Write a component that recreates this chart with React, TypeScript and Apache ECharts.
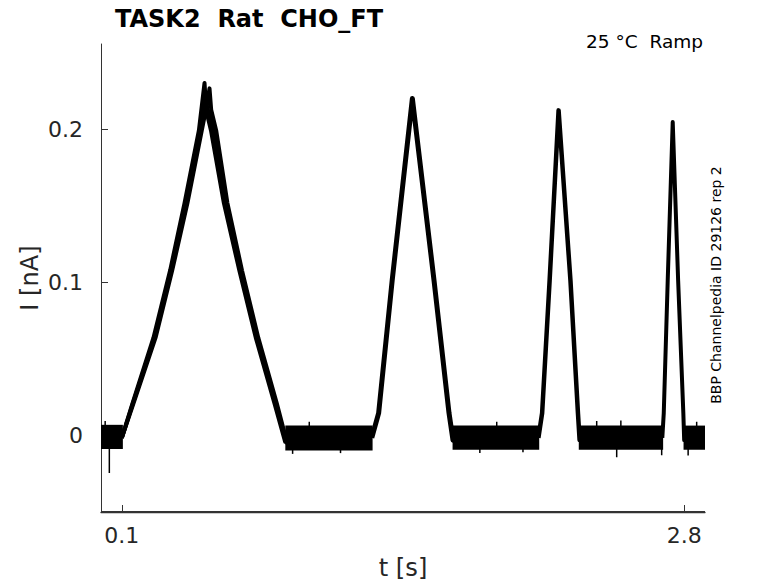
import { useEffect, useRef } from "react";
import * as echarts from "echarts";

// ---- data ----
const xTickValues = [0.1, 2.8];
const yTickValues = [0, 0.1, 0.2];
const xRange = [0, 2.9];
const yRange = [-0.05, 0.256];

// ramp 1, three overlapping sweeps: [t (s), I (nA)]
const ramp1SweepA = [
  [0.1, -0.0015], [0.149, 0.02], [0.252, 0.064], [0.332, 0.108], [0.401, 0.152],
  [0.47, 0.1995], [0.497, 0.2305], [0.506, 0.212], [0.528, 0.1995], [0.59, 0.152],
  [0.664, 0.108], [0.743, 0.064], [0.833, 0.021], [0.884, -0.004], [0.9, -0.0015],
];
const ramp1SweepB = [
  [0.1, -0.0015], [0.156, 0.021], [0.262, 0.064], [0.342, 0.108], [0.415, 0.152],
  [0.484, 0.1995], [0.508, 0.216], [0.521, 0.227], [0.529, 0.213], [0.553, 0.1995],
  [0.607, 0.152], [0.677, 0.108], [0.755, 0.064], [0.844, 0.021], [0.894, -0.005],
  [0.905, -0.0015],
];
const ramp1SweepC = [
  [0.1, -0.0015], [0.152, 0.0205], [0.257, 0.064], [0.337, 0.108], [0.408, 0.152],
  [0.477, 0.1995], [0.502, 0.219], [0.538, 0.1995], [0.598, 0.152], [0.67, 0.108],
  [0.749, 0.064], [0.838, 0.021], [0.89, -0.004], [0.902, -0.0015],
];
const ramp2 = [
  [1.3, -0.0015], [1.333, 0.0146], [1.398, 0.1014], [1.495, 0.2203],
  [1.599, 0.1014], [1.671, 0.0146], [1.69, -0.003], [1.7, -0.0015],
];
const ramp3 = [
  [2.1, -0.0015], [2.118, 0.0146], [2.154, 0.1014], [2.197, 0.2126],
  [2.254, 0.1014], [2.29, 0.0146], [2.298, -0.003], [2.305, -0.0015],
];
const ramp4 = [
  [2.695, -0.0015], [2.702, 0.0146], [2.721, 0.1014], [2.745, 0.205],
  [2.771, 0.1014], [2.796, 0.0146], [2.8, -0.003], [2.805, -0.0015],
];

// holding-level noise band between ramps
const baselineStart = [0, 0.885, 1.688, 2.294, 2.797];
const baselineEnd = [0.105, 1.304, 2.104, 2.699, 2.9];
const baselineTop = [0.007, 0.0065, 0.0065, 0.0065, 0.0065];
const baselineBottom = [-0.0088, -0.0098, -0.0093, -0.0093, -0.0093];

// isolated noise spikes
const spikeT = [0.02, 0.04, 0.92, 1.0, 1.15, 1.819, 1.9, 2.026, 2.38, 2.476, 2.496, 2.692, 2.819, 2.86];
const spikeI = [0.0095, -0.0245, -0.012, 0.009, -0.0115, -0.0114, 0.009, -0.011, 0.0095, -0.0142, 0.0098, -0.0129, -0.013, 0.009];
const spikeBase = -0.0015;

const FONT = '"DejaVu Sans", "Noto Sans", sans-serif';
const AXIS_COLOR = "#333";

export default function App() {
  const ref = useRef<HTMLDivElement>(null);

  useEffect(() => {
    if (!ref.current) return;
    const chart = echarts.init(ref.current, undefined, { renderer: "svg" });

    const lineSeries = (data: number[][], width: number) => ({
      type: "line",
      data,
      showSymbol: false,
      symbol: "none",
      silent: true,
      lineStyle: { color: "#000", width, join: "round" },
      z: 3,
    });

    const option: any = {
      animation: false,
      backgroundColor: "#fff",
      grid: { left: 101, top: 44, width: 604, height: 468, containLabel: false },
      xAxis: {
        type: "value",
        min: xRange[0],
        max: xRange[1],
        axisLine: { show: true, onZero: false, lineStyle: { color: AXIS_COLOR, width: 1.3 } },
        axisTick: { show: true, inside: true, length: 7, customValues: xTickValues, lineStyle: { color: AXIS_COLOR } },
        axisLabel: { customValues: xTickValues, fontSize: 22, color: "#262626", fontFamily: FONT, margin: 12 },
        splitLine: { show: false },
      },
      yAxis: {
        type: "value",
        min: yRange[0],
        max: yRange[1],
        axisLine: { show: true, onZero: false, lineStyle: { color: AXIS_COLOR, width: 1 } },
        axisTick: { show: true, inside: true, length: 7, customValues: yTickValues, lineStyle: { color: AXIS_COLOR } },
        axisLabel: { customValues: yTickValues, fontSize: 22, color: "#262626", fontFamily: FONT, margin: 18 },
        splitLine: { show: false },
      },
      series: [
        {
          type: "custom",
          silent: true,
          z: 2,
          encode: { x: [0, 1], y: [2, 3] },
          data: baselineStart.map((s, i) => [s, baselineEnd[i], baselineBottom[i], baselineTop[i]]),
          renderItem: (_p: any, api: any) => {
            const a = api.coord([api.value(0), api.value(3)]);
            const b = api.coord([api.value(1), api.value(2)]);
            return {
              type: "rect",
              shape: { x: a[0], y: a[1], width: b[0] - a[0], height: b[1] - a[1] },
              style: { fill: "#000" },
            };
          },
        },
        {
          type: "custom",
          silent: true,
          z: 2,
          encode: { x: 0, y: [1, 2] },
          data: spikeT.map((t, i) => [t, spikeBase, spikeI[i]]),
          renderItem: (_p: any, api: any) => {
            const a = api.coord([api.value(0), api.value(1)]);
            const b = api.coord([api.value(0), api.value(2)]);
            return {
              type: "line",
              shape: { x1: a[0], y1: a[1], x2: b[0], y2: b[1] },
              style: { stroke: "#000", lineWidth: 1.5 },
            };
          },
        },
        {
          // bottom axis baseline drawn through the scales (x range at y minimum)
          type: "custom",
          silent: true,
          z: 5,
          clip: false,
          encode: { x: [0, 1], y: 2 },
          data: [[xRange[0], xRange[1], yRange[0]]],
          renderItem: (_p: any, api: any) => {
            const a = api.coord([api.value(0), api.value(2)]);
            const b = api.coord([api.value(1), api.value(2)]);
            const y = a[1] - 0.5;
            return {
              type: "line",
              shape: { x1: a[0], y1: y, x2: b[0], y2: y },
              style: { stroke: AXIS_COLOR, lineWidth: 1.2 },
            };
          },
        },
        lineSeries(ramp1SweepA, 4),
        lineSeries(ramp1SweepB, 4),
        lineSeries(ramp1SweepC, 4),
        lineSeries(ramp2, 5),
        lineSeries(ramp3, 4.5),
        lineSeries(ramp4, 4),
      ],
      graphic: [
        {
          type: "text",
          x: 115,
          y: 19,
          style: {
            text: "TASK2  Rat  CHO_FT",
            font: `bold 24px ${FONT}`,
            fill: "#000",
            textAlign: "left",
            align: "left",
            textVerticalAlign: "middle",
            verticalAlign: "middle",
          },
        },
        {
          type: "text",
          x: 703,
          y: 41.5,
          style: {
            text: "25 °C  Ramp",
            font: `18.5px ${FONT}`,
            fill: "#000",
            textAlign: "right",
            align: "right",
            textVerticalAlign: "middle",
            verticalAlign: "middle",
          },
        },
        {
          type: "text",
          x: 716,
          y: 285,
          rotation: Math.PI / 2,
          style: {
            text: "BBP Channelpedia ID 29126 rep 2",
            font: `14px ${FONT}`,
            fill: "#000",
            textAlign: "center",
            align: "center",
            textVerticalAlign: "middle",
            verticalAlign: "middle",
          },
        },
        {
          type: "text",
          x: 29.6,
          y: 278,
          rotation: Math.PI / 2,
          style: {
            text: "I [nA]",
            font: `24.2px ${FONT}`,
            fill: "#262626",
            textAlign: "center",
            align: "center",
            textVerticalAlign: "middle",
            verticalAlign: "middle",
          },
        },
        {
          type: "text",
          x: 403,
          y: 567.6,
          style: {
            text: "t [s]",
            font: `24.2px ${FONT}`,
            fill: "#262626",
            textAlign: "center",
            align: "center",
            textVerticalAlign: "middle",
            verticalAlign: "middle",
          },
        },
      ],
    };

    chart.setOption(option);
    return () => chart.dispose();
  }, []);

  return (
    <div
      ref={ref}
      style={{ position: "fixed", left: 0, top: 0, width: 778, height: 583, background: "#fff" }}
    />
  );
}
